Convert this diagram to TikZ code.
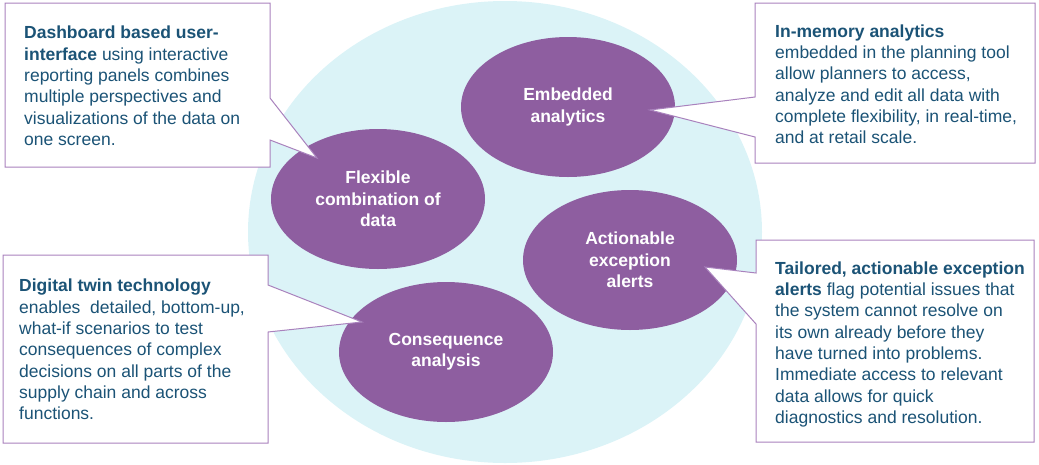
\documentclass[tikz,border=0pt]{standalone}
\usepackage{fontspec}
\setmainfont{Liberation Sans}
\usepackage{xcolor}
\usepackage{tikz}
\usetikzlibrary{shapes,positioning}
\definecolor{bubblepurple}{HTML}{8E5EA0}
\definecolor{cloudcyan}{HTML}{DBF3F7}
\definecolor{boxlilac}{HTML}{A982BD}
\definecolor{noteteal}{HTML}{1B5376}
\tikzstyle{bubble}=[ellipse,fill=bubblepurple,text=white,align=center,inner sep=0,
minimum width=214,minimum height=140,font=\fontsize{17.5}{21.3}\selectfont\bfseries]
\tikzstyle{note}=[anchor=north west,align=left,text=noteteal,inner sep=0,
font=\fontsize{17.5}{21.3}\selectfont]
\tikzstyle{callout}=[draw=boxlilac,fill=white,line width=1pt,line join=miter]

\begin{document}
\begin{tikzpicture}[x=1pt,y=-1pt]

	\useasboundingbox (0,0) rectangle (1039,464);

	\fill[cloudcyan] (505,232) ellipse [x radius=257, y radius=231];

	\node[bubble] (emb) at (568,107) {Embedded\\analytics};
	\node[bubble] (flex) at (378,199) {Flexible\\combination of\\data};
	\node[bubble] (act) at (630,260) {Actionable\\exception\\alerts};
	\node[bubble] (cons) at (446,352) {Consequence\\analysis};

	\coordinate (flextip) at (317,158);
	\coordinate (embtip) at (650,110);
	\coordinate (constip) at (362,322);
	\coordinate (acttip) at (705,267);

% % % Callouts

	\path[callout] (5,3) -- (270,3) -- (270,98) -- (flextip) -- (270,140)
	-- (270,167) -- (5,167) -- cycle;
	\path[callout] (755,3) -- (1035,3) -- (1035,163) -- (755,163)
	-- (755,137) -- (embtip) -- (755,97) -- cycle;
	\path[callout] (3,255) -- (268,255) -- (268,285) -- (constip) -- (268,332)
	-- (268,443) -- (3,443) -- cycle;
	\path[callout] (756,240) -- (1034,240) -- (1034,442) -- (756,442)
	-- (756,324) -- (acttip) -- (756,273) -- cycle;

	\node[note] (dash) at (24,26) {\textbf{Dashboard based user-}\\
	\textbf{interface} using interactive\\reporting panels combines\\
	multiple perspectives and\\visualizations of the data on\\one screen.};

	\node[note] (mem) at (775,24.5) {\textbf{In-memory analytics}\\
	embedded in the planning tool\\allow planners to access,\\
	analyze and edit all data with\\complete flexibility, in real-time,\\
	and at retail scale.};

	\node[note] (twin) at (19,279) {\textbf{Digital twin technology}\\
	enables\ \ detailed, bottom-up,\\what-if scenarios to test\\
	consequences of complex\\decisions on all parts of the\\
	supply chain and across\\functions.};

	\node[note] (alert) at (775,261.5) {\textbf{Tailored, actionable exception}\\
	\textbf{alerts} flag potential issues that\\the system cannot resolve on\\
	its own already before they\\have turned into problems.\\
	Immediate access to relevant\\data allows for quick\\
	diagnostics and resolution.};

\end{tikzpicture}
\end{document}
